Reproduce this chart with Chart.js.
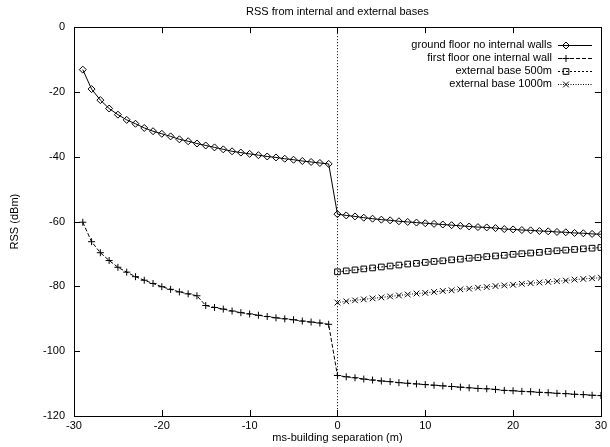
<!DOCTYPE html>
<html>
<head>
<meta charset="utf-8">
<script src="https://cdn.jsdelivr.net/npm/chart.js"></script>
<style>
  html, body { margin: 0; padding: 0; background: #fff; }
  #c { display: block; }
</style>
</head>
<body>
<canvas id="c" width="610" height="447"></canvas>
<script>
// ---- data ----
const xInternal = [-29,-28,-27,-26,-25,-24,-23,-22,-21,-20,-19,-18,-17,-16,-15,-14,-13,-12,-11,-10,-9,-8,-7,-6,-5,-4,-3,-2,-1];
const xExternal = [0,1,2,3,4,5,6,7,8,9,10,11,12,13,14,15,16,17,18,19,20,21,22,23,24,25,26,27,28,29,30];

const groundInternal = [-13.1,-19.1,-22.5,-25.1,-27.0,-28.6,-29.8,-31.1,-32.1,-32.9,-33.7,-34.6,-35.2,-35.9,-36.5,-37.1,-37.7,-38.3,-38.7,-39.1,-39.5,-39.9,-40.2,-40.6,-40.9,-41.3,-41.6,-41.9,-42.2];
const groundExternal = [-57.7,-58.1,-58.4,-58.8,-59.1,-59.4,-59.6,-59.9,-60.1,-60.3,-60.5,-60.7,-60.9,-61.1,-61.3,-61.5,-61.7,-61.8,-62.0,-62.3,-62.4,-62.6,-62.7,-62.9,-63.0,-63.2,-63.3,-63.5,-63.6,-63.8,-63.9];

const firstInternal = [-60.2,-66.2,-69.6,-72.0,-74.1,-75.6,-77.0,-78.1,-79.1,-80.1,-80.9,-81.7,-82.3,-82.9,-85.9,-86.5,-87.0,-87.6,-88.1,-88.5,-88.9,-89.3,-89.7,-90.0,-90.3,-90.7,-91.0,-91.3,-91.7];
const firstExternal = [-107.5,-107.9,-108.2,-108.6,-108.9,-109.2,-109.4,-109.7,-109.9,-110.1,-110.3,-110.5,-110.7,-110.9,-111.1,-111.3,-111.5,-111.6,-111.8,-112.1,-112.2,-112.4,-112.5,-112.7,-112.8,-113.0,-113.1,-113.3,-113.4,-113.6,-113.7];

const ext500 = [-75.5,-75.2,-74.9,-74.6,-74.3,-74.0,-73.7,-73.4,-73.1,-72.9,-72.6,-72.3,-72.1,-71.8,-71.6,-71.3,-71.1,-70.8,-70.6,-70.4,-70.1,-69.9,-69.7,-69.5,-69.2,-69.0,-68.8,-68.6,-68.4,-68.2,-68.0];
const ext1000 = [-85.0,-84.6,-84.3,-84.0,-83.7,-83.4,-83.1,-82.8,-82.5,-82.2,-82.0,-81.7,-81.4,-81.2,-80.9,-80.7,-80.4,-80.2,-79.9,-79.7,-79.5,-79.2,-79.0,-78.8,-78.6,-78.4,-78.2,-77.9,-77.7,-77.5,-77.3];

const seriesLabels = ['ground floor no internal walls', 'first floor one internal wall', 'external base 500m', 'external base 1000m'];
const xTicks = [-30,-20,-10,0,10,20,30];
const yTicks = [-120,-100,-80,-60,-40,-20,0];

// ---- build ----
const pts = (xs, ys) => xs.map((x, i) => ({ x: x, y: ys[i] }));
const FONT = '"Liberation Sans", Arial, Helvetica, sans-serif';

const datasets = [
  { label: seriesLabels[0], data: pts(xInternal.concat(xExternal), groundInternal.concat(groundExternal)),
    pointStyle: 'rectRot', pointRadius: 3.5, borderDash: [] },
  { label: seriesLabels[1], data: pts(xInternal.concat(xExternal), firstInternal.concat(firstExternal)),
    pointStyle: 'cross', pointRadius: 3.5, borderDash: [4, 2] },
  { label: seriesLabels[2], data: pts(xExternal, ext500),
    pointStyle: 'rect', pointRadius: 4, borderDash: [2, 2] },
  { label: seriesLabels[3], data: pts(xExternal, ext1000),
    pointStyle: 'crossRot', pointRadius: 4, borderDash: [1, 1.5] }
].map(d => Object.assign({
  borderColor: '#000', backgroundColor: 'rgba(0,0,0,0)', borderWidth: 1,
  pointBorderColor: '#000', pointBackgroundColor: 'rgba(0,0,0,0)', pointBorderWidth: 1,
  showLine: true, tension: 0, fill: false
}, d));

const framePlugin = {
  id: 'frame',
  afterDatasetsDraw(chart) {
    const { ctx, chartArea: a, scales: { x, y } } = chart;
    ctx.save();
    // zero line (dotted)
    ctx.strokeStyle = '#000';
    ctx.lineWidth = 1;
    ctx.setLineDash([1, 2]);
    const x0 = Math.round(x.getPixelForValue(0)) + 0.5;
    ctx.beginPath(); ctx.moveTo(x0, a.top); ctx.lineTo(x0, a.bottom); ctx.stroke();
    ctx.setLineDash([]);
    // border
    ctx.lineWidth = 1;
    ctx.strokeRect(Math.round(a.left) + 0.5, Math.round(a.top) + 0.5, Math.round(a.right - a.left), Math.round(a.bottom - a.top));
    // inward ticks on all sides
    const tl = 6;
    ctx.beginPath();
    xTicks.forEach(v => {
      const px = Math.round(x.getPixelForValue(v)) + 0.5;
      ctx.moveTo(px, a.bottom); ctx.lineTo(px, a.bottom - tl);
      ctx.moveTo(px, a.top); ctx.lineTo(px, a.top + tl);
    });
    yTicks.forEach(v => {
      const py = Math.round(y.getPixelForValue(v)) + 0.5;
      ctx.moveTo(a.left, py); ctx.lineTo(a.left + tl, py);
      ctx.moveTo(a.right, py); ctx.lineTo(a.right - tl, py);
    });
    ctx.stroke();

    // legend (text, then sample)
    ctx.font = '11px ' + FONT;
    ctx.textAlign = 'right';
    ctx.textBaseline = 'middle';
    chart.data.datasets.forEach((ds, i) => {
      const ly = 45 + i * 13;
      ctx.fillStyle = '#000';
      ctx.fillText(ds.label, 552, ly);
      const yy = Math.round(ly) + 0.5;
      ctx.save();
      ctx.setLineDash(ds.borderDash || []);
      ctx.beginPath(); ctx.moveTo(558, yy); ctx.lineTo(592, yy); ctx.stroke();
      ctx.restore();
      ctx.fillStyle = 'rgba(0,0,0,0)';
      ctx.strokeStyle = '#000';
      ctx.setLineDash([]);
      Chart.helpers.drawPoint(ctx, {
        pointStyle: ds.pointStyle, radius: ds.pointRadius, rotation: 0, borderWidth: 1
      }, 566, yy);
    });
    ctx.restore();
  }
};

new Chart(document.getElementById('c'), {
  type: 'scatter',
  data: { datasets },
  options: {
    responsive: false,
    animation: false,
    devicePixelRatio: 1,
    layout: { padding: { top: 0, right: 6, left: 0, bottom: 0 } },
    plugins: {
      legend: { display: false },
      tooltip: { enabled: false },
      title: {
        display: true, text: 'RSS from internal and external bases', fullSize: false,
        color: '#000', font: { family: FONT, size: 11, weight: 'normal' },
        padding: { top: 5, bottom: 9 }
      }
    },
    scales: {
      x: {
        type: 'linear', min: -30, max: 30,
        afterBuildTicks: s => { s.ticks = xTicks.map(v => ({ value: v })); },
        afterFit: s => { s.height = 31; },
        grid: { display: false, drawTicks: false },
        border: { display: false },
        ticks: { color: '#000', font: { family: FONT, size: 11 }, padding: 3, maxRotation: 0, autoSkip: false },
        title: { display: true, text: 'ms-building separation (m)', color: '#000',
                 font: { family: FONT, size: 11 }, padding: { top: 0, bottom: 2 } }
      },
      y: {
        type: 'linear', min: -120, max: 0,
        afterBuildTicks: s => { s.ticks = yTicks.map(v => ({ value: v })); },
        afterFit: s => { s.width = 74; },
        grid: { display: false, drawTicks: false },
        border: { display: false },
        ticks: { color: '#000', font: { family: FONT, size: 11 }, padding: 9, autoSkip: false },
        title: { display: true, text: 'RSS (dBm)', color: '#000',
                 font: { family: FONT, size: 11 }, padding: { top: 8, bottom: 0 } }
      }
    }
  },
  plugins: [framePlugin]
});
</script>
</body>
</html>
